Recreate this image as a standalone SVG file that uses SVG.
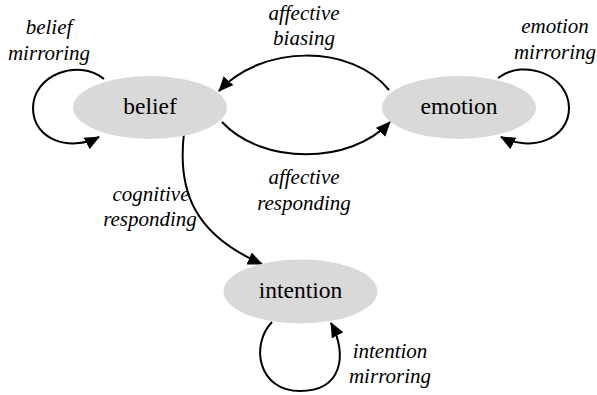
<svg xmlns="http://www.w3.org/2000/svg" width="597" height="395" viewBox="0 0 597 395">
<defs>
<marker id="arr" markerUnits="userSpaceOnUse" markerWidth="16" markerHeight="14" refX="14" refY="6.5" orient="auto">
<path d="M0,0 L15,6.5 L0,13 z" fill="#000"/>
</marker>
</defs>
<rect width="597" height="395" fill="#fff"/>
<g id="connectors" fill="none" stroke="#000" stroke-width="2" marker-end="url(#arr)">
<path d="M104,79 C78,58 33,75 33,108 C33,140 70,152 99,137"/>
<path d="M498,78 C524,58 569,75 569,108 C569,140 530,152 501,137"/>
<path d="M389,90 C352,44 262,44 219,91"/>
<path d="M222,122 C262,165 350,165 390,122"/>
<path d="M184,133 C177,192 195,235 262,264"/>
<path d="M272,322 C250,345 258,391 300,391 C342,391 348,355 331,323"/>
</g>
<g id="labels" font-family="Liberation Serif" font-size="21" font-style="italic" fill="#000" text-anchor="middle">
<text x="49" y="34">belief</text>
<text x="49" y="60">mirroring</text>
<text x="555" y="33">emotion</text>
<text x="555" y="59">mirroring</text>
<text x="304" y="20">affective</text>
<text x="304" y="45">biasing</text>
<text x="304" y="184">affective</text>
<text x="304" y="210">responding</text>
<text x="151" y="201">cognitive</text>
<text x="150" y="226">responding</text>
<text x="390" y="358">intention</text>
<text x="390" y="383">mirroring</text>
</g>
<g id="belief" font-family="Liberation Serif" font-size="23.5" text-anchor="middle">
<ellipse cx="150" cy="107.5" rx="77" ry="31.5" fill="#d9d9d9"/>
<text x="150" y="114">belief</text>
</g>
<g id="emotion" font-family="Liberation Serif" font-size="23.5" text-anchor="middle">
<ellipse cx="459" cy="107.5" rx="77" ry="31.5" fill="#d9d9d9"/>
<text x="459" y="114">emotion</text>
</g>
<g id="intention" font-family="Liberation Serif" font-size="23.5" text-anchor="middle">
<ellipse cx="300.5" cy="291.5" rx="77" ry="32" fill="#d9d9d9"/>
<text x="300.5" y="298">intention</text>
</g>
</svg>
